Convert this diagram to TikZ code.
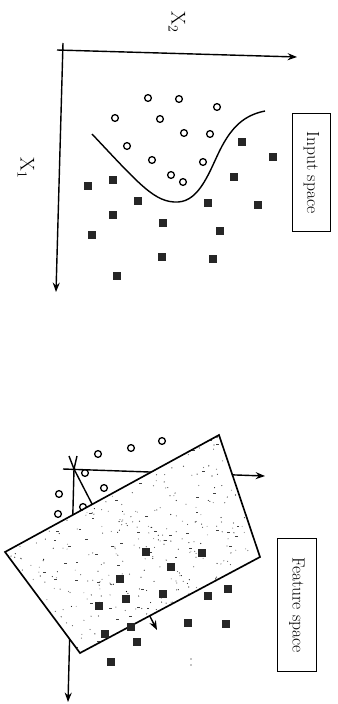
\documentclass[tikz,border=0pt]{standalone}
\usetikzlibrary{arrows.meta}
\tikzset{
  axis/.style={line width=1.2pt,-{Stealth[length=8pt,width=6pt]}},
  hollow/.style={circle,draw,line width=1.1pt,minimum size=5.8pt,inner sep=0pt},
  solidpt/.style={rectangle,fill=black!85,minimum size=6pt,inner sep=0pt},
  axislabel/.style={font=\fontsize{17}{20}\selectfont,rotate=-90,inner sep=0pt},
  captionbox/.style={draw,line width=0.9pt,rotate=-90,inner sep=0pt,font=\fontsize{15}{18}\selectfont}
}
\begin{document}
\begin{tikzpicture}[x=0.03cm,y=-0.03cm]
  \useasboundingbox (0,0) rectangle (337,704);
  \pgfmathsetseed{7}

  % input space
  \coordinate (x2start) at (57,50);
  \coordinate (x2end) at (297,57);
  \coordinate (x1start) at (63,43);
  \coordinate (x1end) at (56,292);
  \draw[axis] (x2start) -- (x2end);
  \draw[axis] (x1start) -- (x1end);
  \node[axislabel] (x2lab) at (177,22) {X\textsubscript{2}};
  \node[axislabel] (x1lab) at (26,168) {X\textsubscript{1}};

  \foreach \px/\py [count=\i] in {148/98,179/99,217/107,115/118,160/119,184/133,
      210/134,127/146,152/160,203/162,171/175,183/182}
    \node[hollow] (ic\i) at (\px,\py) {};
  \foreach \px/\py [count=\i] in {242/142,273/157,234/177,88/186,113/180,138/201,
      208/203,258/205,113/215,163/223,220/231,92/235,162/257,213/259,117/276}
    \node[solidpt] (is\i) at (\px,\py) {};

  % separating curve
  \draw[line width=1.2pt] (92,134) .. controls (140,185) and (155,203) .. (178,202)
    .. controls (200,201) and (210,170) .. (220,150)
    .. controls (232,126) and (245,115) .. (265,111);

  \node[captionbox,minimum width=101pt,minimum height=33pt] (inlab) at (311.5,172.5) {Input space};

  % feature space
  \foreach \px/\py [count=\i] in {162/441,131/448,98/454,59/494,58/514,104/488,85/473,83/507}
    \node[hollow] (fc\i) at (\px,\py) {};

  \coordinate (o) at (74,469);
  \coordinate (hl) at (63,469);
  \coordinate (hr) at (265,476);
  \coordinate (vtop) at (77,456);
  \coordinate (vtip) at (68,702);
  \coordinate (dtop) at (69,456);
  \coordinate (dtip) at (157,630);
  \draw[axis] (hl) -- (hr);
  \draw[axis] (vtop) -- (o) -- (vtip);
  \draw[axis] (dtop) -- (o) -- (dtip);

  % hyperplane
  \coordinate (pa) at (5,552);
  \coordinate (pb) at (219,435);
  \coordinate (pc) at (260,557);
  \coordinate (pd) at (80,653);
  \fill[white] (pa) -- (pb) -- (pc) -- (pd) -- cycle;
  \begin{scope}
    \clip (pa) -- (pb) -- (pc) -- (pd) -- cycle;
    \foreach \k in {1,...,520}{
      \pgfmathsetmacro\op{0.35+0.65*rnd}
      \fill[black,opacity=\op] (5+255*rnd,435+218*rnd) circle[radius=0.5pt];
    }
    \foreach \k in {1,...,110}{
      \fill[black!75] (5+255*rnd,435+218*rnd) rectangle ++(2.8,0.9);
    }
  \end{scope}
  \draw[line width=1.4pt,line join=miter] (pa) -- (pb) -- (pc) -- (pd) -- cycle;

  \foreach \px/\py [count=\i] in {146/552,202/553,171/567,120/579,163/594,208/596,
      228/589,126/599,99/606,131/627,105/634,137/642,188/623,226/624,111/662}
    \node[solidpt] (fs\i) at (\px,\py) {};
  \fill (191,659) circle[radius=0.6pt] (191,665) circle[radius=0.6pt];

  \node[captionbox,minimum width=114pt,minimum height=34pt] (featlab) at (297,605) {Feature space};
\end{tikzpicture}
\end{document}
